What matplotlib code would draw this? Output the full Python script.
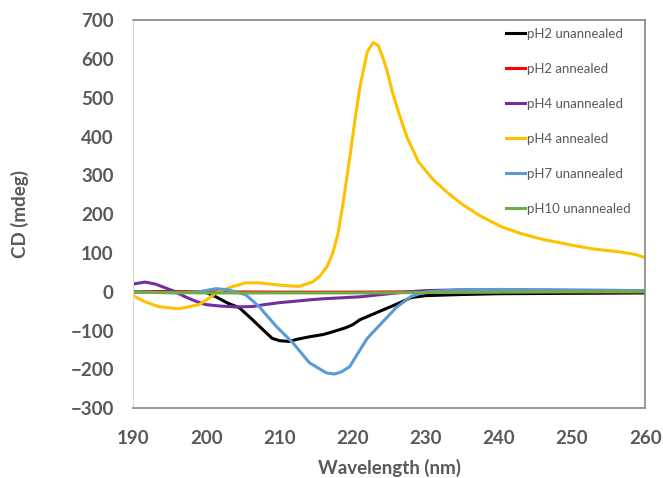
import matplotlib.pyplot as plt

# CD spectra
wl_black = [190, 195, 200, 201.3, 203, 204.5, 206.3, 208.2, 209, 210, 211.3, 212.5, 214.1, 216, 217.3, 219, 220, 221, 222.5, 224, 225, 226.5, 228, 230, 235, 240, 250, 260]
cd_black = [0, 0, -2, -13, -30, -41, -72, -106, -120, -126, -128, -122, -116, -110, -103, -93, -85, -72, -60, -48, -40, -28, -15, -10, -7, -5, -4, -3]

wl_red = [190, 200, 210, 220, 230, 240, 250, 260]
cd_red = [0, 0, -1, -1, 0, 0, 0, 0]

wl_purple = [190, 191.6, 193, 194.4, 195.5, 197.1, 198.5, 199.9, 202, 204, 206.3, 208, 210, 211.8, 214, 216, 218, 221, 223, 225, 227, 230, 235, 240, 250, 260]
cd_purple = [20, 25, 20, 10, 2, -13, -24, -33, -37, -39, -38, -33, -28, -25, -21, -18, -16, -13, -9, -5, -1, 3, 5, 5, 4, 3]

wl_yellow = [190, 191.5, 193.4, 196.2, 199, 200.5, 201.3, 203.5, 205.4, 207.2, 209.6, 211.5, 212.7, 214.5, 215.5, 216.5, 217.3, 218, 218.7, 219.6, 220.3, 221, 222, 222.8, 223.5, 224.1, 224.7, 225.5, 226.5, 227.5, 229, 231, 233, 235, 237.5, 240.3, 243, 246, 250, 253, 256, 258.5, 260]
cd_yellow = [-10, -25, -38, -44, -33, -15, -3, 13, 23, 23, 18, 15, 14, 25, 40, 65, 100, 150, 229, 345, 440, 528, 618, 642, 635, 605, 570, 510, 450, 395, 335, 289, 255, 225, 195, 168, 150, 135, 120, 110, 104, 97, 88]

wl_blue = [190, 193, 196, 199, 201.3, 203, 204, 205.4, 207.2, 209.6, 211.8, 214.1, 216.4, 217.5, 218.5, 219.6, 221, 222, 224, 226, 228, 230, 235, 240, 250, 260]
cd_blue = [0, -2, -3, 0, 8, 5, 0, -8, -38, -90, -131, -183, -209, -212, -206, -193, -150, -120, -80, -40, -12, 0, 5, 6, 4, 3]

wl_green = [190, 200, 210, 220, 230, 240, 250, 260]
cd_green = [-1, -3, -3, -3, -2, -1, 0, 0]

series = [
    ("pH2 unannealed", wl_black, cd_black, "#000000"),
    ("pH2 annealed", wl_red, cd_red, "#ff0000"),
    ("pH4 unannealed", wl_purple, cd_purple, "#7030a0"),
    ("pH4 annealed", wl_yellow, cd_yellow, "#ffc000"),
    ("pH7 unannealed", wl_blue, cd_blue, "#5b9bd5"),
    ("pH10 unannealed", wl_green, cd_green, "#70ad47"),
]

x_ticks = list(range(190, 261, 10))
y_ticks = list(range(-300, 701, 100))

plt.rcParams['font.family'] = ['Lato', 'DejaVu Sans']
fig = plt.figure(figsize=(6.63, 4.78), dpi=100)
ax = fig.add_axes([0.201, 0.146, 0.772, 0.812])

for label, x, y, c in series:
    ax.plot(x, y, color=c, lw=2.2, label=label)

ax.set_xlim(190, 260)
ax.set_ylim(-300, 700)
ax.set_xticks(x_ticks)
ax.set_yticks(y_ticks)
ax.tick_params(length=0, labelsize=13.5, labelcolor="#595959")
ax.tick_params(axis="x", pad=16)
ax.tick_params(axis="y", pad=14)
for t in ax.get_xticklabels() + ax.get_yticklabels():
    t.set_fontweight("bold")

ax.spines["left"].set_color("#d9d9d9")
for s in ("top", "right", "bottom"):
    ax.spines[s].set_color("#868686")
    ax.spines[s].set_linewidth(1.2)

ax.set_xlabel("Wavelength (nm)", fontsize=13.5, fontweight="bold", color="#595959", labelpad=8)
ax.set_ylabel("CD (mdeg)", fontsize=13.5, fontweight="bold", color="#595959", labelpad=30)

leg = ax.legend(loc="upper left", bbox_to_anchor=(499 / 663, 1 - 21 / 478),
                bbox_transform=fig.transFigure, frameon=False, fontsize=9.5,
                handlelength=1.5, handletextpad=0.1, labelspacing=1.75, borderpad=0)
for t in leg.get_texts():
    t.set_color("#595959")

fig.savefig("out.png", dpi=100)
